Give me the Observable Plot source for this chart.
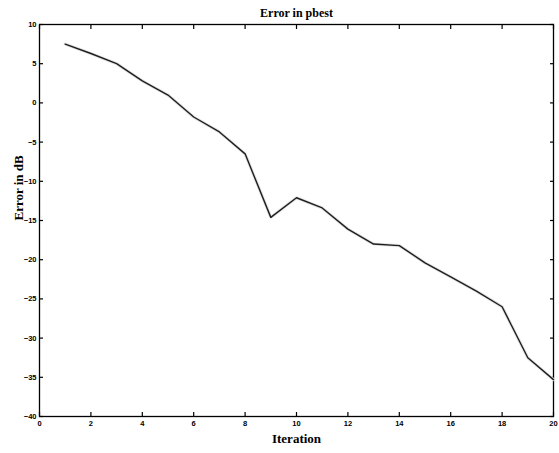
<!DOCTYPE html>
<html>
<head>
<meta charset="utf-8">
<script src="https://cdn.jsdelivr.net/npm/d3@7"></script>
<script src="https://cdn.jsdelivr.net/npm/@observablehq/plot@0.6"></script>
<style>
  html, body { margin: 0; padding: 0; background: #fff; }
</style>
</head>
<body>
<div id="chart"></div>
<script>
const iterations = [1,2,3,4,5,6,7,8,9,10,11,12,13,14,15,16,17,18,19,20];
const errorDb = [7.5,6.3,5.0,2.8,1.0,-1.8,-3.7,-6.5,-14.6,-12.1,-13.4,-16.1,-18.0,-18.2,-20.4,-22.2,-24.0,-26.0,-32.5,-35.3];
const xTicks = [0,2,4,6,8,10,12,14,16,18,20];
const yTicks = [-40,-35,-30,-25,-20,-15,-10,-5,0,5,10];
const titleText = "Error in pbest";
const xLabel = "Iteration";
const yLabel = "Error in dB";

const data = iterations.map((x, i) => ({x, y: errorDb[i]}));

const tickFont = {fontFamily: "Liberation Sans, Arial, sans-serif", fontWeight: "bold", fontSize: 7.5};
const serif = {fontFamily: "Liberation Serif, Times New Roman, serif", fontWeight: "bold", fill: "#000"};

const chart = Plot.plot({
  width: 559,
  height: 453,
  marginLeft: 39,
  marginRight: 6,
  marginTop: 24,
  marginBottom: 37,
  style: {background: "#fff", color: "#000", fontFamily: "Liberation Sans, Arial, sans-serif"},
  x: {domain: [0, 20]},
  y: {domain: [-40, 10]},
  marks: [
    Plot.frame({stroke: "#000", strokeWidth: 1.3}),
    Plot.axisX(xTicks, {anchor: "bottom", tickSize: -4, tickPadding: 8, stroke: "#000", strokeWidth: 1.2, label: null, ...tickFont}),
    Plot.axisX(xTicks, {anchor: "top", tickSize: -4, tickFormat: () => "", stroke: "#000", strokeWidth: 1.2, label: null}),
    Plot.axisY(yTicks, {anchor: "left", tickSize: -4, tickPadding: 7, stroke: "#000", strokeWidth: 1.2, label: null, ...tickFont}),
    Plot.axisY(yTicks, {anchor: "right", tickSize: -4, tickFormat: () => "", stroke: "#000", strokeWidth: 1.2, label: null}),
    Plot.lineY(data, {x: "x", y: "y", stroke: "#e4e4e4", strokeWidth: 3.2}),
    Plot.lineY(data, {x: "x", y: "y", stroke: "#1e1e1e", strokeWidth: 1.4}),
    Plot.text([titleText], {frameAnchor: "top", dy: -16, text: d => d, fontSize: 12, ...serif}),
    Plot.text([xLabel], {frameAnchor: "bottom", dy: 26, text: d => d, fontSize: 13, ...serif}),
    Plot.text([yLabel], {frameAnchor: "left", dx: -21, rotate: -90, text: d => d, fontSize: 13, ...serif})
  ]
});
document.getElementById("chart").appendChild(chart);
</script>
</body>
</html>
